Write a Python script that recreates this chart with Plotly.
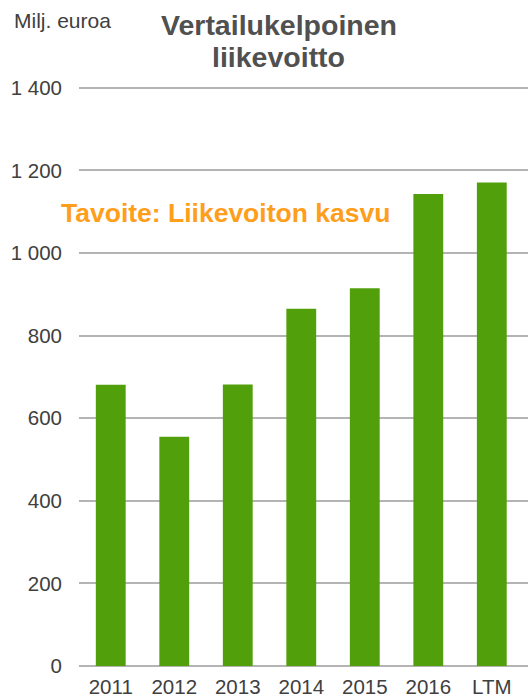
import plotly.graph_objects as go

years = ['2011', '2012', '2013', '2014', '2015', '2016', 'LTM']
profit = [681, 555, 682, 865, 915, 1143, 1171]
y_ticks = [0, 200, 400, 600, 800, 1000, 1200, 1400]
y_labels = ['0', '200', '400', '600', '800', '1 000', '1 200', '1 400']

font_name = 'Liberation Sans, Arial, sans-serif'


def note(txt, y_shift, size, color, x=0.0, x_shift=0, x_anchor='left'):
    return dict(text=txt, xref='paper', yref='paper', x=x, y=1.0, xshift=x_shift, yshift=y_shift,
                xanchor=x_anchor, yanchor='middle', showarrow=False,
                font=dict(size=size, color=color))


bars = go.Bar(x=years, y=profit, marker=dict(color='#529F0C', line=dict(width=0)),
              hoverinfo='x+y')

# top of range a bit above 1400 so plotly keeps the 1400 gridline
layout = go.Layout(
    width=528, height=699,
    margin=dict(l=79, r=0, t=85, b=33),
    paper_bgcolor='white', plot_bgcolor='white',
    bargap=0.53,
    showlegend=False,
    font=dict(family=font_name, color='#404040'),
    xaxis=dict(range=[-0.5, 6.57], showgrid=False, showline=False, zeroline=False,
               ticks='', ticklabelstandoff=6,
               tickfont=dict(size=20.5, color='#404040'), fixedrange=True),
    yaxis=dict(range=[0, 1407], tickvals=y_ticks, ticktext=y_labels,
               showgrid=True, gridcolor='#B4B4B4', gridwidth=2,
               zeroline=True, zerolinecolor='#B4B4B4', zerolinewidth=2,
               showline=False, ticks='', ticklabelstandoff=16,
               tickfont=dict(size=20.5, color='#404040'), fixedrange=True),
    annotations=[
        note('Milj. euroa', 65, 21, '#404040', x_shift=-67),
        note('<b>Vertailukelpoinen</b>', 60, 28.5, '#505050', x=0.445, x_anchor='center'),
        note('<b>liikevoitto</b>', 28, 28.5, '#505050', x=0.445, x_anchor='center'),
        dict(text='<b>Tavoite: Liikevoiton kasvu</b>', xref='paper', yref='y',
             x=0, xshift=-20, y=1097, xanchor='left', yanchor='middle', showarrow=False,
             font=dict(size=26.5, color='#FF9E1B')),
    ],
)

fig = go.Figure(data=[bars], layout=layout)
fig.write_html("out.html", config={'displayModeBar': False},
               post_script="document.body.style.margin='0';")
